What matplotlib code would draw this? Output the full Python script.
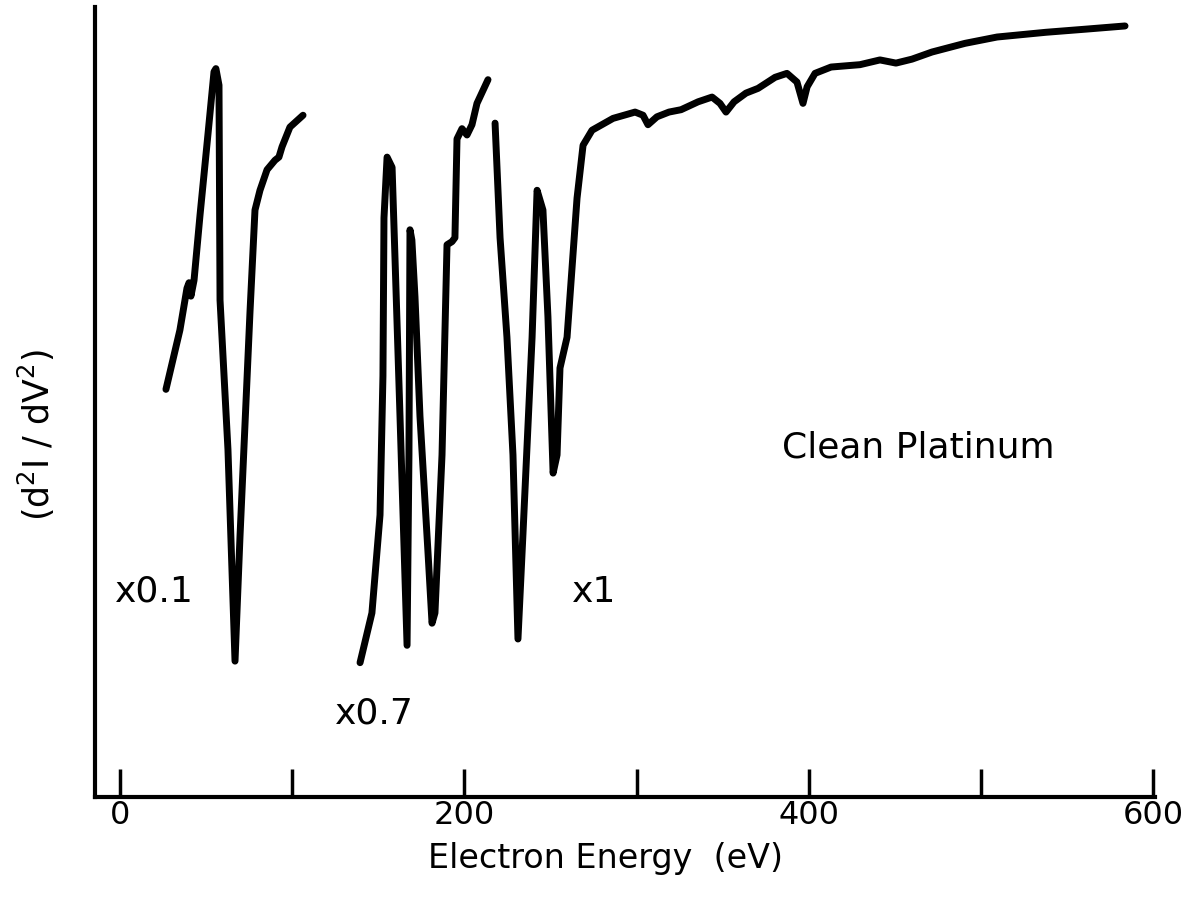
import numpy as np
import matplotlib
matplotlib.use("Agg")
import matplotlib.pyplot as plt

# curve, energy in eV, intensity in arbitrary units (0-100)
# x0.1 part
e_low = [26.7, 34.8, 38.9, 40.1, 41.2, 43.0, 46.5, 51.1, 54.6, 55.7, 57.5, 58.1, 62.7, 66.8,
         69.7, 75.5, 78.4, 81.3, 85.4, 90.0, 92.3, 94.1, 98.7, 106.3]
i_low = [51.6, 59.1, 64.4, 65.1, 63.4, 65.4, 73.7, 83.9, 91.8, 92.2, 90.1, 62.9, 44.0, 17.2,
         33.0, 61.4, 74.3, 76.8, 79.4, 80.6, 81.0, 82.3, 84.8, 86.3]

# x0.7 part
e_mid = [139.4, 146.3, 151.0, 152.7, 153.3, 155.1, 158.0, 159.7, 162.6, 166.7, 167.8, 168.4,
         169.5, 171.3, 174.2, 178.9, 181.2, 182.9, 187.0, 189.9, 192.8, 194.5, 195.7, 198.6,
         201.5, 204.4, 207.3, 213.7]
i_mid = [17.0, 23.3, 35.7, 53.3, 73.3, 81.0, 79.7, 68.2, 48.2, 19.2, 43.3, 71.8,
         70.5, 63.3, 48.2, 30.8, 22.0, 23.3, 43.3, 69.9, 70.3, 70.8, 83.3, 84.6,
         83.8, 85.1, 87.8, 90.8]

# x1 part
e_high = [217.8, 220.7, 224.7, 228.2, 231.1, 234.0, 239.3, 242.2, 245.6, 248.5, 251.5, 253.8,
          255.5, 259.6, 265.4, 268.9, 274.1, 286.3, 299.1, 303.7, 306.6, 311.8, 318.8, 325.8,
          335.7, 343.8, 348.4, 351.9, 356.6, 363.5, 370.5, 380.4, 387.3, 393.1, 396.6, 399.0,
          403.6, 412.9, 429.7, 441.3, 450.6, 459.9, 471.5, 490.7, 509.3, 537.7, 561.0, 583.6]
i_high = [85.3, 70.8, 58.2, 43.3, 20.0, 33.3, 58.2, 76.8, 74.3, 60.8, 41.0, 43.3,
          54.3, 58.2, 75.8, 82.5, 84.4, 85.9, 86.7, 86.3, 85.1, 86.1, 86.7, 87.0,
          88.0, 88.6, 87.8, 86.7, 88.0, 89.1, 89.7, 91.1, 91.6, 90.5, 87.8, 89.9,
          91.6, 92.4, 92.7, 93.3, 92.9, 93.4, 94.3, 95.4, 96.2, 96.8, 97.2, 97.6]

ticks = [0, 100, 200, 300, 400, 500, 600]
tick_labels = ['0', '', '200', '', '400', '', '600']

plt.rcParams['font.family'] = ['DejaVu Sans']

W, H = 1194, 907
fig = plt.figure(figsize=(W / 100, H / 100), dpi=100)
ax = fig.add_axes([95/W, 110/H, (1155-95)/W, 790/H])

def px(x, y):
    # pixel position (from top-left) -> figure fraction
    return x / W, 1 - y / H

for e, i in [(e_low, i_low), (e_mid, i_mid), (e_high, i_high)]:
    ax.plot(e, i, color='black', lw=5, solid_joinstyle='round', solid_capstyle='round')

ax.set_xlim(-14.5, 601)
ax.set_ylim(0, 100)
ax.spines['top'].set_visible(False)
ax.spines['right'].set_visible(False)
ax.spines['left'].set_linewidth(3)
ax.spines['bottom'].set_linewidth(3)
ax.set_yticks([])
ax.set_xticks(ticks)
ax.set_xticklabels(tick_labels)
ax.tick_params(axis='x', direction='in', length=20, width=2.5, labelsize=23, pad=2)

fig.text(*px(115, 602), 'x0.1', fontsize=26, va='baseline')
fig.text(*px(335, 723), 'x0.7', fontsize=26, va='baseline')
fig.text(*px(572, 602), 'x1', fontsize=26, va='baseline')
fig.text(*px(782, 458), 'Clean Platinum', fontsize=26, va='baseline')

fig.text(*px(606, 868), 'Electron Energy  (eV)', fontsize=24, ha='center', va='baseline')
fig.text(*px(36, 435), r'(d$^2$I / dV$^2$)', fontsize=25, rotation=90,
         ha='center', va='center')

fig.savefig('out.png', dpi=100, facecolor='white')
